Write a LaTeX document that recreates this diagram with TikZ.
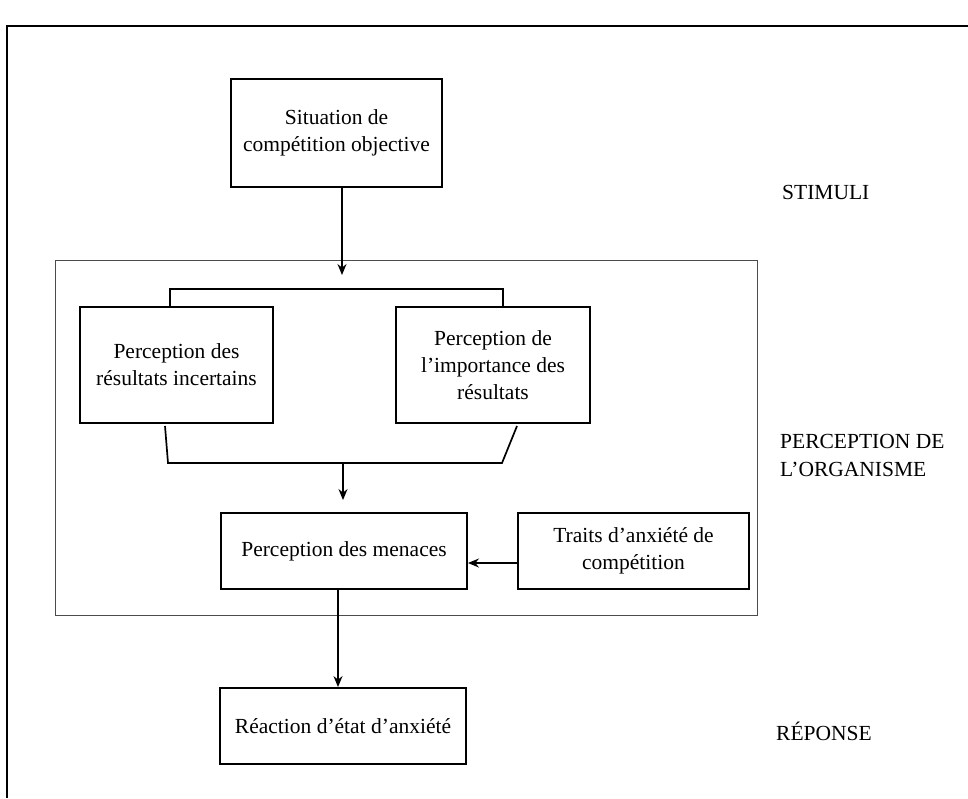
\documentclass[tikz,border=0pt]{standalone}
\usepackage{fontspec}
\setmainfont{Liberation Serif}
\usetikzlibrary{arrows.meta,calc}
\begin{document}
\begin{tikzpicture}[x=1pt,y=-1pt,
  box/.style={draw,line width=1.9pt,align=center,inner sep=0pt,
    font=\fontsize{21.5}{27}\selectfont},
  lbl/.style={anchor=west,align=left,inner sep=0pt,font=\fontsize{21.5}{28}\selectfont},
  conn/.style={line width=1.7pt},
  arr/.style={line width=1.5pt,-{Stealth[length=11pt,width=9pt]}}]
\useasboundingbox (0,0) rectangle (968,798);
% outer frame
\coordinate (fbl) at (7,798);
\coordinate (ftl) at (7,26);
\coordinate (ftr) at (968,26);
\draw[line width=1.6pt] (fbl) -- (ftl) -- (ftr);
% inner frame
\draw[line width=1pt,gray!60!black] (55,260) rectangle (757,615);
% boxes
\node[box,minimum width=211,minimum height=108] (sit) at (336.5,133) {Situation de\\comp\'etition objective};
\node[box,minimum width=193,minimum height=116] (inc) at (176.5,365) {Perception des\\r\'esultats incertains};
\node[box,minimum width=194,minimum height=116] (imp) at (493,365) {Perception de\\l’importance des\\r\'esultats};
\node[box,minimum width=246,minimum height=76] (men) at (344,551) {Perception des menaces};
\node[box,minimum width=231,minimum height=76] (tra) at (633.5,551) {Traits d’anxi\'et\'e de\\comp\'etition};
\node[box,minimum width=246,minimum height=76] (rea) at (343,726) {R\'eaction d’\'etat d’anxi\'et\'e};
% labels
\node[lbl] (stim) at (782,192) {STIMULI};
\node[lbl] (perc) at (780,455) {PERCEPTION DE\\L’ORGANISME};
\node[lbl] (rep) at (776,731) {R\'EPONSE};
% connectors
\coordinate (topend) at (342,275);
\draw[arr] (sit.south -| topend) -- (topend);
\coordinate (tl) at (170,289);
\coordinate (tr) at (503,289);
\draw[conn] (inc.north -| tl) -- (tl) -- (tr) -- (imp.north -| tr);
\coordinate (bl1) at (165,426);
\coordinate (bl2) at (168,463);
\coordinate (br2) at (502,463);
\coordinate (br1) at (517,426);
\coordinate (bm) at (343,463);
\draw[conn] (bl1) -- (bl2) -- (br2) -- (br1);
\draw[arr] (bm) -- ($(men.north)+(-1,-12)$);
\draw[arr] ([yshift=-12pt]tra.west) -- ([yshift=-12pt]men.east);
\draw[arr] ([xshift=-6pt]men.south) -- ([xshift=-5pt]rea.north);
\end{tikzpicture}
\end{document}
